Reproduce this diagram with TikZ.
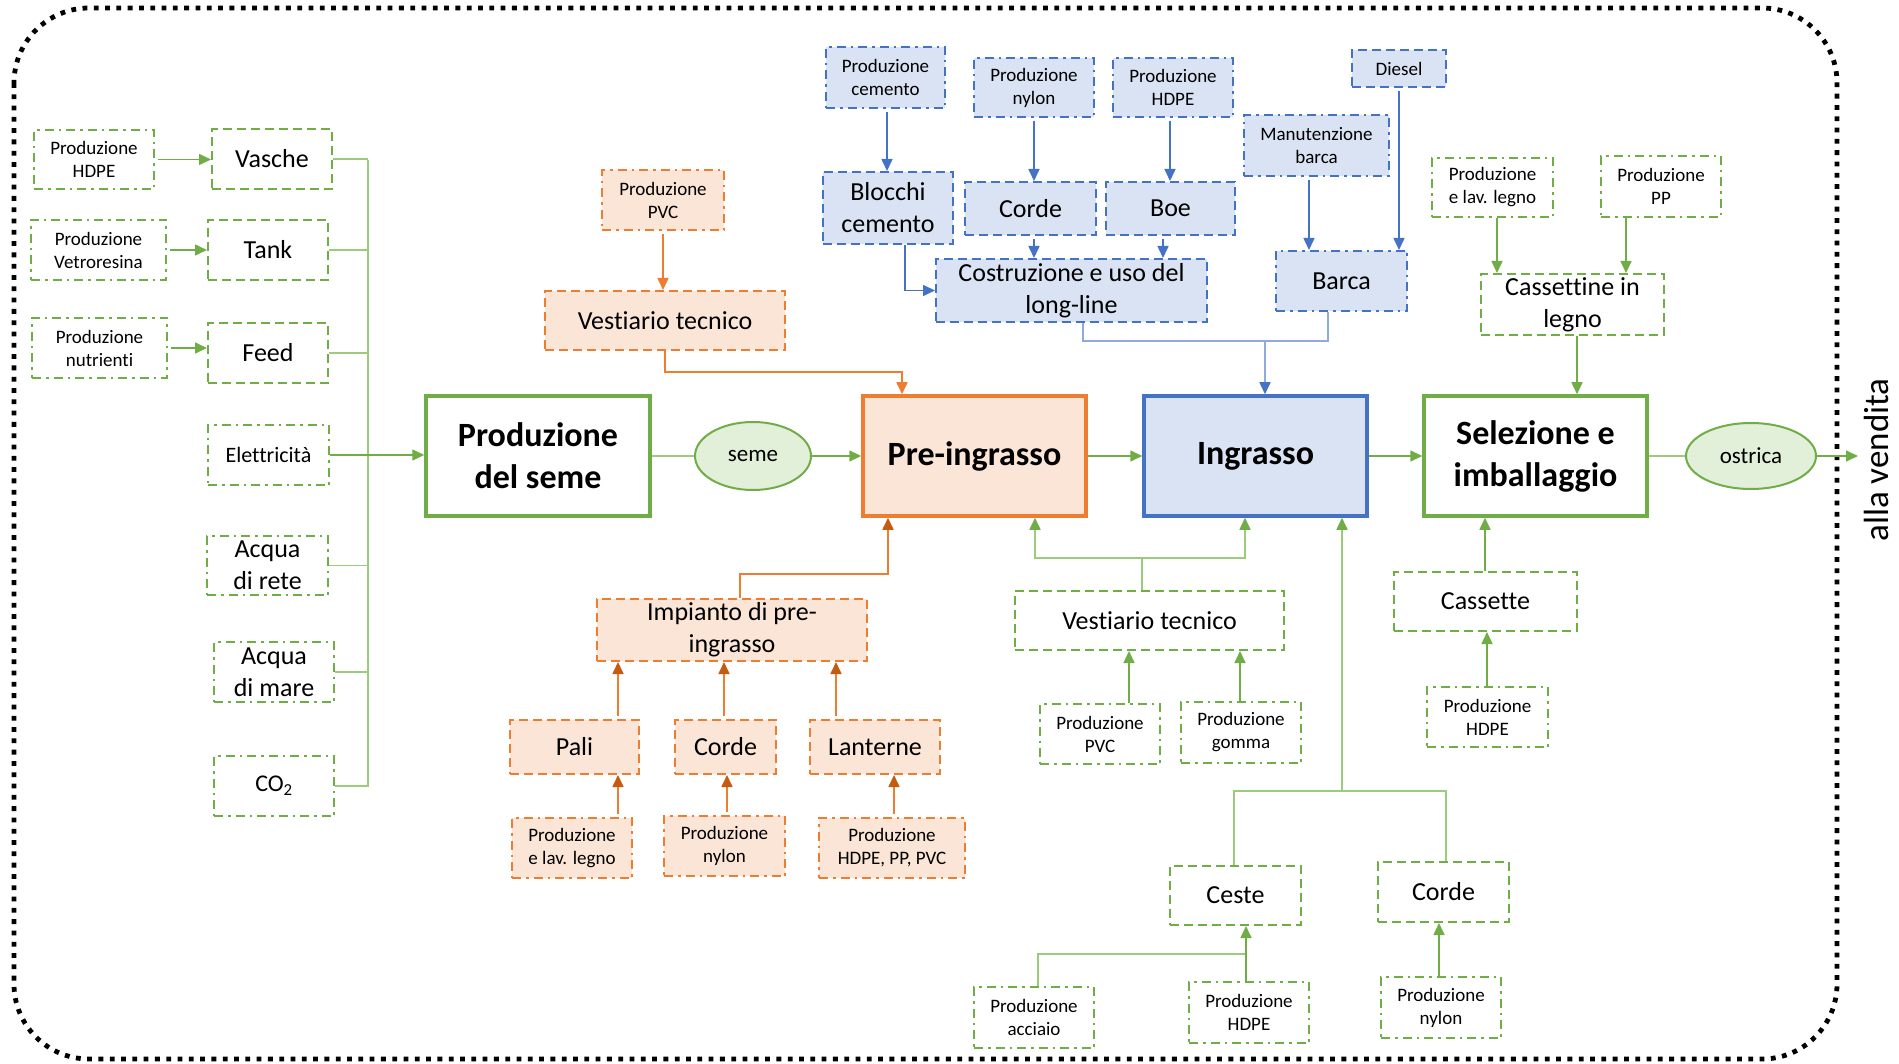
\documentclass[tikz,border=0pt]{standalone}
\usepackage{fontspec}
\setmainfont{Carlito}[Ligatures=NoCommon]
\usetikzlibrary{arrows.meta,shapes.geometric,calc}
\definecolor{cgreen}{HTML}{70AD47}
\definecolor{lgreen}{HTML}{9CCB7C}
\definecolor{corange}{HTML}{ED7D31}
\definecolor{dorange}{HTML}{C55A11}
\definecolor{ofill}{HTML}{FBE5D6}
\definecolor{cblue}{HTML}{4472C4}
\definecolor{lblue}{HTML}{8FAADC}
\definecolor{bfill}{HTML}{DAE3F3}
\definecolor{efill}{HTML}{E2F0D9}
\tikzset{
  base/.style={align=center, inner sep=0pt, font=\fontsize{26}{32}\selectfont},
  sm/.style={font=\fontsize{19}{23}\selectfont},
  dsh/.style={dash pattern=on 9pt off 5pt},
  dd/.style={dash pattern=on 9pt off 5pt on 2.5pt off 5pt},
  sz/.style 2 args={minimum width=#1pt, minimum height=#2pt},
  gb/.style={base, draw=cgreen, line width=2pt, dsh, fill=white},
  gp/.style={base, sm, draw=cgreen, line width=2pt, dd, fill=white},
  ob/.style={base, draw=corange, line width=2pt, dsh, fill=ofill},
  op/.style={base, sm, draw=corange, line width=2pt, dd, fill=ofill},
  bb/.style={base, draw=cblue, line width=2pt, dsh, fill=bfill},
  bp/.style={base, sm, draw=cblue, line width=2pt, dd, fill=bfill},
  mainbox/.style={align=center, inner sep=0pt, line width=3.5pt, minimum width=223pt, minimum height=120pt,
     font=\bfseries\fontsize{34}{42}\selectfont},
  ell/.style={ellipse, draw=cgreen, line width=2pt, fill=efill, inner sep=0pt, font=\fontsize{23}{28}\selectfont},
  tip/.style={-{Triangle[length=12pt,width=11pt]}},
  gline/.style={draw=lgreen, line width=1.6pt},
  garr/.style={draw=cgreen, line width=1.6pt, tip, shorten <=3pt},
  garrl/.style={draw=lgreen, line width=1.6pt, -{Triangle[length=12pt,width=11pt,color=cgreen,fill=cgreen]}},
  oarr/.style={draw=corange, line width=1.6pt, tip},
  darr/.style={draw=corange, line width=1.6pt, -{Triangle[length=12pt,width=11pt,color=dorange,fill=dorange]}, shorten <=3pt},
  barr/.style={draw=cblue, line width=1.6pt, tip, shorten <=3pt},
  bline/.style={draw=lblue, line width=1.6pt},
  barrl/.style={draw=lblue, line width=1.6pt, -{Triangle[length=12pt,width=11pt,color=cblue,fill=cblue]}},
}
\begin{document}
\begin{tikzpicture}[x=1pt,y=-1pt]
\useasboundingbox (0,0) rectangle (1899,1064);
% outer border
\draw[line width=4.8pt, dash pattern=on 4.8pt off 6.5pt, rounded corners=75pt] (14,8) rectangle (1837,1059);

% ---------- left inputs
\node[gp, sz={120}{59}] (hdpe1) at (94,159.5) {Produzione\\HDPE};
\node[gb, sz={120}{60}] (vasche) at (272,159) {Vasche};
\node[gp, sz={135}{60}] (vetro) at (98.5,250) {Produzione\\Vetroresina};
\node[gb, sz={120}{60}] (tank) at (268,250) {Tank};
\node[gp, sz={135}{60}] (nutri) at (99.5,348) {Produzione\\nutrienti};
\node[gb, sz={120}{60}] (feed) at (268,353) {Feed};
\node[gp, sz={121}{60}, font=\fontsize{22}{26}\selectfont] (elet) at (268.5,455) {Elettricità};
\node[gp, sz={121}{59}, font=\fontsize{26}{32}\selectfont] (acqrete) at (267.5,565.5) {Acqua\\di rete};
\node[gp, sz={120}{60}, font=\fontsize{26}{32}\selectfont] (acqmare) at (274,672) {Acqua\\di mare};
\node[gp, sz={120}{60}, font=\fontsize{24}{28}\selectfont] (co2) at (274,786) {CO\textsubscript{2}};

\coordinate (bustop) at (368,160);
\coordinate (busbot) at (368,787);

\draw[garr] (hdpe1.east) -- (hdpe1.east -| vasche.west);
\draw[garr] (vetro.east) -- (vetro.east -| tank.west);
\draw[garr] (nutri.east) -- (nutri.east -| feed.west);
\draw[gline] (bustop) -- (busbot);
\draw[gline] (vasche.east) -- (vasche.east -| bustop);
\draw[gline] (tank.east) -- (tank.east -| bustop);
\draw[gline] (feed.east) -- (feed.east -| bustop);
\draw[gline] (acqrete.east) -- (acqrete.east -| bustop);
\draw[gline] (acqmare.east) -- (acqmare.east -| bustop);
\draw[gline] (co2.east) -- (co2.east -| bustop);

% ---------- main chain
\node[mainbox, draw=cgreen, fill=white, minimum width=224pt] (seme) at (538,456) {Produzione\\del seme};
\node[ell, minimum width=116pt, minimum height=68pt] (semeell) at (753,456) {seme};
\node[mainbox, draw=corange, fill=ofill] (preingr) at (974.5,456) {Pre-ingrasso};
\node[mainbox, draw=cblue, fill=bfill] (ingr) at (1255.5,456) {Ingrasso};
\node[mainbox, draw=cgreen, fill=white] (selez) at (1535.5,456) {Selezione e\\imballaggio};
\node[ell, minimum width=130pt, minimum height=66pt] (ostrica) at (1751,456) {ostrica};
\coordinate (vendita) at (1858,456);
\node[rotate=90, inner sep=0pt, font=\fontsize{35}{40}\selectfont] (vendtxt) at (1876,460) {alla vendita};

\draw[garr, shorten <=0pt] (elet.east) -- (elet.east -| seme.west);
\draw[gline] (seme.east) -- (semeell.west);
\draw[garr, shorten <=0pt] (semeell.east) -- (preingr.west);
\draw[garr, shorten <=0pt] (preingr.east) -- (ingr.west);
\draw[garr, shorten <=0pt] (ingr.east) -- (selez.west);
\draw[gline] (selez.east) -- (ostrica.west);
\draw[garr, shorten <=0pt] (ostrica.east) -- (vendita);

% ---------- orange top
\node[op, sz={122}{60}] (opvc) at (663,200) {Produzione\\PVC};
\node[ob, sz={240}{59}] (ovest) at (665,320.5) {Vestiario tecnico};
\coordinate (o1) at (902,372);
\draw[oarr, shorten <=3pt] (opvc.south) -- (opvc.south |- ovest.north);
\draw[oarr] (ovest.south) |- (o1) -- (o1 |- preingr.north);

% ---------- orange bottom
\node[ob, sz={270}{62}] (impianto) at (732,630) {Impianto di pre-\\ingrasso};
\node[ob, sz={129}{54}] (pali) at (574.5,747) {Pali};
\node[ob, sz={101}{54}] (ocorde) at (725.5,747) {Corde};
\node[ob, sz={130}{54}] (lanterne) at (875,747) {Lanterne};
\node[op, sz={120}{60}] (olegno) at (572,848) {Produzione\\e lav. legno};
\node[op, sz={121}{60}] (onylon) at (724.5,846) {Produzione\\nylon};
\node[op, sz={146}{60}] (ohdpe) at (892,848) {Produzione\\HDPE, PP, PVC};
\coordinate (o2) at (888,574);
\coordinate (o3) at (740,574);
\coordinate (xa) at (618,0);
\coordinate (xb) at (724,0);
\coordinate (xc) at (836,0);
\coordinate (xd) at (618,0);
\coordinate (xe) at (727,0);
\coordinate (xf) at (894,0);
\draw[darr, shorten <=0pt] (impianto.north -| o3) -- (o3) -- (o2) -- (o2 |- preingr.south);
\draw[darr] (pali.north -| xa) -- (impianto.south -| xa);
\draw[darr] (ocorde.north -| xb) -- (impianto.south -| xb);
\draw[darr] (lanterne.north -| xc) -- (impianto.south -| xc);
\draw[darr] (olegno.north -| xd) -- (pali.south -| xd);
\draw[darr] (onylon.north -| xe) -- (ocorde.south -| xe);
\draw[darr] (ohdpe.north -| xf) -- (lanterne.south -| xf);

% ---------- blue top
\node[bp, sz={119}{61}] (bcem) at (885.5,77.5) {Produzione\\cemento};
\node[bb, sz={130}{72}] (blocchi) at (888,208) {Blocchi\\cemento};
\node[bp, sz={120}{59}] (bnylon) at (1034,87.5) {Produzione\\nylon};
\node[bp, sz={120}{59}] (bhdpe) at (1173,87.5) {Produzione\\HDPE};
\node[bb, sz={131}{53}] (bcorde) at (1030.5,208.5) {Corde};
\node[bb, sz={129}{53}] (boe) at (1170.5,208.5) {Boe};
\node[bb, sz={271}{63}] (costr) at (1071.5,290.5) {Costruzione e uso del\\long-line};
\node[bb, sm, sz={94}{37}] (diesel) at (1399,68.5) {Diesel};
\node[bp, sz={145}{61}] (manut) at (1316.5,145.5) {Manutenzione\\barca};
\node[bp, sz={131}{60}, font=\fontsize{26}{32}\selectfont] (barca) at (1341.5,281) {Barca};

\coordinate (xg) at (887,0);
\coordinate (xh) at (1034,0);
\coordinate (xi) at (1170,0);
\coordinate (xj) at (1163,0);
\coordinate (xk) at (905,0);
\coordinate (xl) at (1309,0);
\coordinate (xm) at (1399,0);
\coordinate (b1) at (1083,341);
\coordinate (b2) at (1328,341);
\coordinate (b3) at (1265,341);
\draw[barr] (bcem.south -| xg) -- (blocchi.north -| xg);
\draw[barr] (bnylon.south -| xh) -- (bcorde.north -| xh);
\draw[barr] (bhdpe.south -| xi) -- (boe.north -| xi);
\draw[barr] (bcorde.south -| xh) -- (costr.north -| xh);
\draw[barr] (boe.south -| xj) -- (costr.north -| xj);
\draw[barr, shorten <=0pt] (blocchi.south -| xk) |- (costr.west);
\draw[barr] (manut.south -| xl) -- (barca.north -| xl);
\draw[barr] (diesel.south -| xm) -- (barca.north -| xm);
\draw[bline] (costr.south -| b1) -- (b1) -- (b2) -- (barca.south -| b2);
\draw[barrl] (b3) -- (ingr.north -| b3);

% ---------- right top green
\node[gp, sz={121}{59}] (glegno) at (1492.5,187.5) {Produzione\\e lav. legno};
\node[gp, sz={120}{61}] (gpp) at (1661,186.5) {Produzione\\PP};
\node[gb, sz={183}{61}] (cassettine) at (1572.5,304.5) {Cassettine in\\legno};
\coordinate (xn) at (1497,0);
\coordinate (xo) at (1626,0);
\coordinate (xp) at (1577,0);
\draw[garr, shorten <=0pt] (glegno.south -| xn) -- (cassettine.north -| xn);
\draw[garr, shorten <=0pt] (gpp.south -| xo) -- (cassettine.north -| xo);
\draw[garr, shorten <=0pt] (cassettine.south -| xp) -- (selez.north -| xp);

% ---------- right bottom green
\node[gb, sz={183}{59}] (cassette) at (1485.5,601.5) {Cassette};
\node[gp, sz={121}{60}] (ghdpe2) at (1487.5,717) {Produzione\\HDPE};
\coordinate (xq) at (1485,0);
\coordinate (xr) at (1487,0);
\draw[garr, shorten <=0pt] (cassette.north -| xq) -- (selez.south -| xq);
\draw[garr, shorten <=0pt] (ghdpe2.north -| xr) -- (cassette.south -| xr);

% ---------- middle green
\node[gb, sz={269}{59}] (gvest) at (1149.5,620.5) {Vestiario tecnico};
\node[gp, sz={120}{60}] (gpvc) at (1100,734) {Produzione\\PVC};
\node[gp, sz={120}{61}] (ggomma) at (1241,732.5) {Produzione\\gomma};
\coordinate (g1) at (1142,558);
\coordinate (g2) at (1035,558);
\coordinate (g3) at (1245,558);
\coordinate (xs) at (1129,0);
\coordinate (xt) at (1240,0);
\draw[gline] (gvest.north -| g1) -- (g1);
\draw[garrl] (g1) -- (g2) -- (g2 |- preingr.south);
\draw[garrl] (g1) -- (g3) -- (g3 |- ingr.south);
\draw[garr, shorten <=0pt] (gpvc.north -| xs) -- (gvest.south -| xs);
\draw[garr, shorten <=0pt] (ggomma.north -| xt) -- (gvest.south -| xt);

\node[gb, sz={131}{59}] (ceste) at (1235.5,895.5) {Ceste};
\node[gb, sz={131}{60}] (gcorde) at (1443.5,892) {Corde};
\node[gp, sz={120}{61}] (gacciaio) at (1034,1017.5) {Produzione\\acciaio};
\node[gp, sz={120}{61}] (ghdpe3) at (1249,1012.5) {Produzione\\HDPE};
\node[gp, sz={120}{61}] (gnylon) at (1441,1007.5) {Produzione\\nylon};
\coordinate (h1) at (1342,791);
\coordinate (h2) at (1234,791);
\coordinate (h3) at (1446,791);
\coordinate (h4) at (1038,954);
\coordinate (h5) at (1246,954);
\coordinate (xu) at (1439,0);
\draw[garrl] (h1) -- (h1 |- ingr.south);
\draw[gline] (ceste.north -| h2) -- (h2) -- (h3) -- (gcorde.north -| h3);
\draw[gline] (gacciaio.north -| h4) -- (h4) -- (h5);
\draw[garr, shorten <=0pt] (ghdpe3.north -| h5) -- (ceste.south -| h5);
\draw[garr, shorten <=0pt] (gnylon.north -| xu) -- (gcorde.south -| xu);
\end{tikzpicture}
\end{document}
